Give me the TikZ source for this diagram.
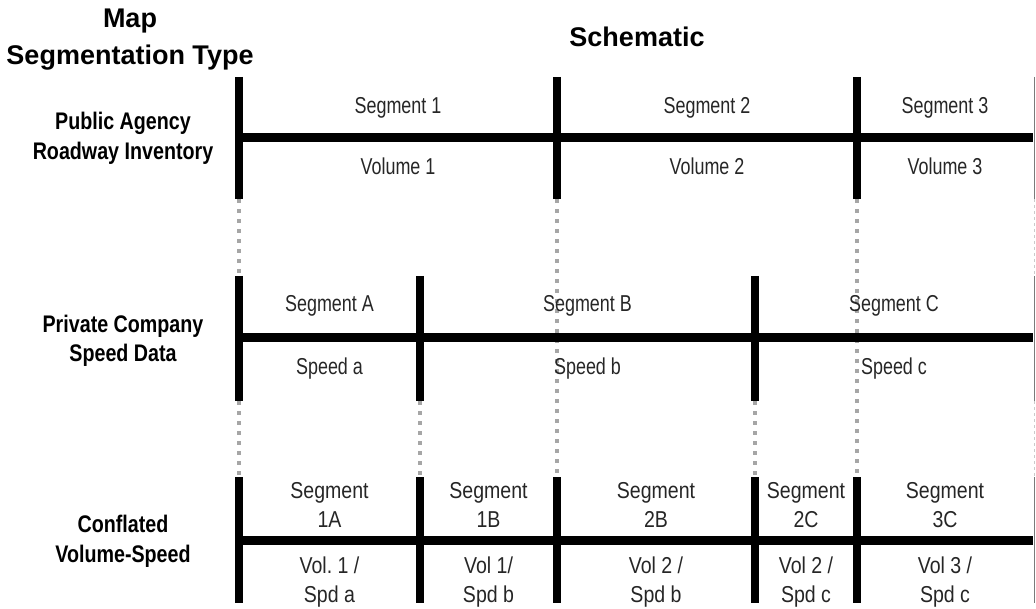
\documentclass[tikz,border=0pt]{standalone}
\usepackage{fontspec}
\setmainfont{Liberation Sans}
\newfontfamily\segsans[FakeStretch=0.78]{Liberation Sans}
\newfontfamily\cnfsans[FakeStretch=0.85]{Liberation Sans}
\newfontfamily\rowsans[FakeStretch=0.82]{Liberation Sans}
\usetikzlibrary{calc}
\usepackage{xcolor}
\definecolor{dotgray}{HTML}{A6A6A6}
\definecolor{rimgray}{HTML}{7A7A7A}

\tikzset{
	road/.style={line width=9pt},
	tick/.style={line width=8pt},
	guide/.style={draw=dotgray, line width=4pt, dash pattern=on 4pt off 6pt},
	rim/.style={draw=rimgray, line width=1.5pt},
	rimgap/.style={draw=dotgray!60, line width=1pt, dash pattern=on 3pt off 3pt},
	seglabel/.style={anchor=base, inner sep=0pt, text=black!85, font=\segsans\fontsize{23}{28}\selectfont},
	cnflabel/.style={anchor=base, inner sep=0pt, text=black!85, font=\cnfsans\fontsize{23}{28}\selectfont},
	rowlabel/.style={anchor=base, inner sep=0pt, font=\rowsans\bfseries\fontsize{24}{29}\selectfont},
	headlabel/.style={anchor=base, inner sep=0pt, font=\bfseries\fontsize{27}{32}\selectfont}
}

\begin{document}
\begin{tikzpicture}[x=1pt, y=-1pt]
	\useasboundingbox (0,0) rectangle (1036,609);
	% public agency road
	\coordinate (p1) at (239,138);
	\coordinate (p2) at (557,138);
	\coordinate (p3) at (857,138);
	\coordinate (pe) at (1033,138);
	% private company road
	\coordinate (s1) at (239,338);
	\coordinate (s2) at (420,338);
	\coordinate (s3) at (755,338);
	\coordinate (se) at (1033,338);
	% conflated road
	\coordinate (c1) at (239,540);
	\coordinate (c2) at (420,540);
	\coordinate (c3) at (557,540);
	\coordinate (c4) at (755,540);
	\coordinate (c5) at (857,540);
	\coordinate (ce) at (1033,540);

	\draw[guide] ($(p1)+(0,61)$) -- ($(s1)+(0,-62)$);
	\draw[guide] ($(p2)+(0,61)$) -- ($(c3)+(0,-63)$);
	\draw[guide] ($(p3)+(0,61)$) -- ($(c5)+(0,-63)$);
	\draw[guide] ($(s1)+(0,63)$) -- ($(c1)+(0,-63)$);
	\draw[guide] ($(s2)+(0,63)$) -- ($(c2)+(0,-63)$);
	\draw[guide] ($(s3)+(0,63)$) -- ($(c4)+(0,-63)$);

	\draw[rim] ($(pe)+(1.5,-61)$) -- ($(pe)+(1.5,61)$);
	\draw[rim] ($(se)+(1.5,-62)$) -- ($(se)+(1.5,63)$);
	\draw[rim] ($(ce)+(1.5,-63)$) -- ($(ce)+(1.5,63)$);
	\draw[rimgap] ($(pe)+(1.5,61)$) -- ($(se)+(1.5,-62)$);
	\draw[rimgap] ($(se)+(1.5,63)$) -- ($(ce)+(1.5,-63)$);

	\draw[road] (p1) -- (pe);
	\draw[road] (s1) -- (se);
	\draw[road] (c1) -- (ce);
	\foreach \c in {p1,p2,p3}
		\draw[tick] ($(\c)+(0,-61)$) -- ($(\c)+(0,61)$);
	\foreach \c in {s1,s2,s3}
		\draw[tick] ($(\c)+(0,-62)$) -- ($(\c)+(0,63)$);
	\foreach \c in {c1,c2,c3,c4,c5}
		\draw[tick] ($(\c)+(0,-63)$) -- ($(\c)+(0,63)$);

	\foreach \a/\b/\n in {p1/p2/1, p2/p3/2, p3/pe/3} {
		\path ($(\a)!.5!(\b)+(0,-24)$) node[seglabel] (seg\n) {Segment \n};
		\path ($(\a)!.5!(\b)+(0,37)$) node[seglabel] (vol\n) {Volume \n};
	}
	\foreach \a/\b/\n/\m in {s1/s2/A/a, s2/s3/B/b, s3/se/C/c} {
		\path ($(\a)!.5!(\b)+(0,-26)$) node[seglabel] (seg\n) {Segment \n};
		\path ($(\a)!.5!(\b)+(0,37)$) node[seglabel] (spd\m) {Speed \m};
	}
	\foreach \a/\b/\n/\v/\s in {c1/c2/1A/{Vol.\ 1 /}/a, c2/c3/1B/{Vol 1/}/b, c3/c4/2B/{Vol 2 /}/b, c4/c5/2C/{Vol 2 /}/c, c5/ce/3C/{Vol 3 /}/c} {
		\path ($(\a)!.5!(\b)+(0,-42)$) node[cnflabel] (seg\n) {Segment};
		\path ($(\a)!.5!(\b)+(0,-13)$) node[cnflabel] (seg\n id) {\n};
		\path ($(\a)!.5!(\b)+(0,33)$) node[cnflabel] (vol\n) {\v};
		\path ($(\a)!.5!(\b)+(0,62)$) node[cnflabel] (spd\n) {Spd \s};
	}

	\node[headlabel] (map) at (130,28) {Map};
	\node[headlabel] (segtype) at (130,65) {Segmentation Type};
	\node[headlabel] (schematic) at (637,47) {Schematic};
	\node[rowlabel] (pub) at (123,130) {Public Agency};
	\node[rowlabel] (pubinv) at (123,160) {Roadway Inventory};
	\node[rowlabel] (priv) at (123,333) {Private Company};
	\node[rowlabel] (privspd) at (123,362) {Speed Data};
	\node[rowlabel] (conf) at (123,532) {Conflated};
	\node[rowlabel] (confvs) at (123,562) {Volume-Speed};
\end{tikzpicture}
\end{document}
